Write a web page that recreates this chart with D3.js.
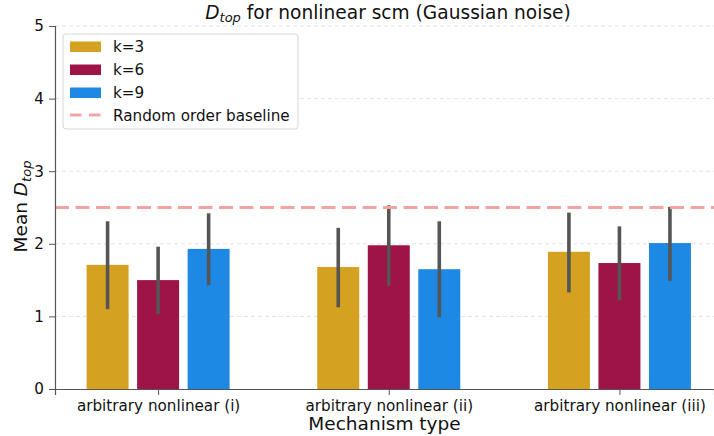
<!DOCTYPE html>
<html>
<head>
<meta charset="utf-8">
<script src="https://cdn.jsdelivr.net/npm/d3@7"></script>
<style>
  body { margin: 0; background: #fff; }
  svg { font-family: "DejaVu Sans", sans-serif; }
</style>
</head>
<body>
<div id="chart"></div>
<script>
// data
const mechanisms = ["arbitrary nonlinear (i)", "arbitrary nonlinear (ii)", "arbitrary nonlinear (iii)"];
const kLabels = ["k=3", "k=6", "k=9"];
const kColors = ["#d4a121", "#9e1449", "#1e88e5"];
const means = [
  [1.71, 1.50, 1.93],
  [1.68, 1.98, 1.65],
  [1.89, 1.735, 2.01]
];
const errLow = [
  [1.10, 1.03, 1.43],
  [1.125, 1.42, 0.99],
  [1.33, 1.22, 1.49]
];
const errHigh = [
  [2.31, 1.96, 2.42],
  [2.22, 2.53, 2.31],
  [2.43, 2.24, 2.51]
];
const baseline = 2.5;
const yTicks = [0, 1, 2, 3, 4, 5];

const W = 714, H = 436;
const margin = { top: 26, right: 0, bottom: 47, left: 55 };
const iw = W - margin.left - margin.right;
const ih = H - margin.top - margin.bottom;

const svg = d3.select("#chart").append("svg")
  .attr("width", W).attr("height", H);

const g = svg.append("g").attr("transform", `translate(${margin.left},${margin.top})`);

// categorical position as a continuous scale, like matplotlib
const x = d3.scaleLinear().domain([-0.447, 2.41]).range([0, iw]);
const y = d3.scaleLinear().domain([0, 5]).range([ih, 0]);
const barStep = 0.219, barW = 0.182;

// grid
g.append("g").selectAll("line").data(yTicks.slice(1)).join("line")
  .attr("x1", 0).attr("x2", iw)
  .attr("y1", d => y(d)).attr("y2", d => y(d))
  .attr("stroke", "#dadada").attr("stroke-dasharray", "4,3").attr("stroke-width", 0.8);

// bars
const rows = [];
mechanisms.forEach((m, i) => kLabels.forEach((k, j) => rows.push({
  i, j, v: means[i][j], lo: errLow[i][j], hi: errHigh[i][j]
})));

g.append("g").selectAll("rect").data(rows).join("rect")
  .attr("x", d => x(d.i + (d.j - 1) * barStep - barW / 2))
  .attr("width", d => x(barW) - x(0))
  .attr("y", d => y(d.v))
  .attr("height", d => y(0) - y(d.v))
  .attr("fill", d => kColors[d.j]);

// error bars
g.append("g").selectAll("line").data(rows).join("line")
  .attr("x1", d => x(d.i + (d.j - 1) * barStep))
  .attr("x2", d => x(d.i + (d.j - 1) * barStep))
  .attr("y1", d => y(d.lo)).attr("y2", d => y(d.hi))
  .attr("stroke", "#555").attr("stroke-width", 3.6);

// baseline
g.append("line")
  .attr("x1", 0).attr("x2", iw)
  .attr("y1", y(baseline)).attr("y2", y(baseline))
  .attr("stroke", "#f4a3a3").attr("stroke-width", 3.2)
  .attr("stroke-dasharray", "14,6.5");

// axes
const yAxis = g.append("g").call(d3.axisLeft(y).tickValues(yTicks).tickFormat(d3.format("d")).tickSize(6).tickPadding(5));
const xAxis = g.append("g").attr("transform", `translate(0,${ih})`)
  .call(d3.axisBottom(x).tickValues([0, 1, 2]).tickFormat(d => mechanisms[d]).tickSize(6).tickPadding(5));
[yAxis, xAxis].forEach(a => {
  a.select(".domain").attr("stroke", "#555").attr("stroke-width", 1.2);
  a.selectAll(".tick line").attr("stroke", "#555");
  a.selectAll("text").attr("font-size", 15.2).attr("fill", "#111")
    .attr("font-family", "DejaVu Sans, sans-serif");
});

// title
const title = svg.append("text")
  .attr("x", 388).attr("y", 18.5)
  .attr("text-anchor", "middle").attr("font-size", 18.6).attr("fill", "#111");
title.append("tspan").attr("font-style", "italic").text("D");
title.append("tspan").attr("font-style", "italic").attr("font-size", 13).attr("dy", 3.5).text("top");
title.append("tspan").attr("dy", -3.5).text(" for nonlinear scm (Gaussian noise)");

// axis labels
svg.append("text")
  .attr("x", margin.left + iw / 2).attr("y", 430)
  .attr("text-anchor", "middle").attr("font-size", 18.5).attr("fill", "#111")
  .text("Mechanism type");

const yl = svg.append("text")
  .attr("transform", `translate(27,${margin.top + ih / 2 - 1}) rotate(-90)`)
  .attr("text-anchor", "middle").attr("font-size", 18.5).attr("fill", "#111");
yl.append("tspan").text("Mean ");
yl.append("tspan").attr("font-style", "italic").text("D");
yl.append("tspan").attr("font-style", "italic").attr("font-size", 13).attr("dy", 4).text("top");

// legend
const leg = svg.append("g").attr("transform", "translate(63,34)");
leg.append("rect").attr("width", 235).attr("height", 95).attr("rx", 3)
  .attr("fill", "#fff").attr("fill-opacity", 0.85)
  .attr("stroke", "#d6d6d6");
kLabels.forEach((k, j) => {
  const ry = 12.5 + j * 23;
  leg.append("rect").attr("x", 7).attr("y", ry - 5).attr("width", 31).attr("height", 10.5)
    .attr("fill", kColors[j]);
  leg.append("text").attr("x", 50).attr("y", ry + 5.5).attr("font-size", 15.2).attr("fill", "#111").text(k);
});
leg.append("line").attr("x1", 7).attr("x2", 38).attr("y1", 81).attr("y2", 81)
  .attr("stroke", "#f4a3a3").attr("stroke-width", 3.2).attr("stroke-dasharray", "11.5,7.5");
leg.append("text").attr("x", 50).attr("y", 86.5).attr("font-size", 15.2).attr("fill", "#111")
  .text("Random order baseline");
</script>
</body>
</html>
